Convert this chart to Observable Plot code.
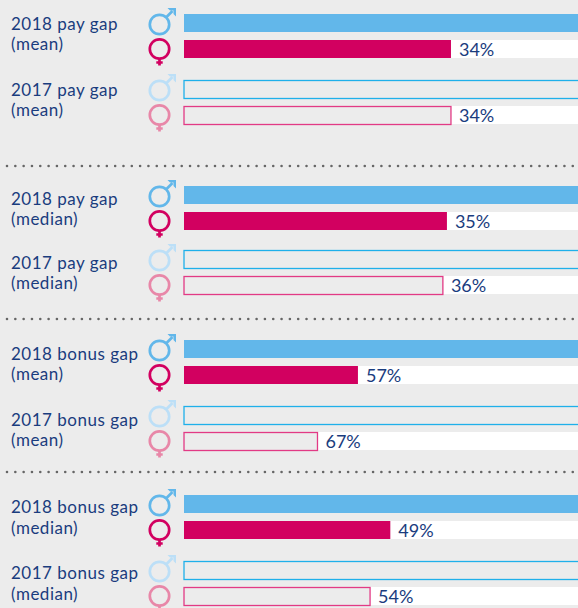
<!DOCTYPE html>
<html><head><meta charset="utf-8">
<style>html,body{margin:0;padding:0;background:#ececec;overflow:hidden}svg{display:block}.lbl{letter-spacing:.5px}</style>
<script src="https://cdn.jsdelivr.net/npm/d3@7"></script>
<script src="https://cdn.jsdelivr.net/npm/@observablehq/plot@0.6"></script>
</head><body><script>
// Data
const measures = ["pay gap\n(mean)", "pay gap\n(median)", "bonus gap\n(mean)", "bonus gap\n(median)"];
const years = ["2018", "2017"];
const gap2018 = [34, 35, 57, 49];
const gap2017 = [34, 36, 67, 54];
const maleIndex = 100;

// Layout (y scale units, kept apart from the data)
const sectionTop = [14, 186, 340, 495];
const yearOffset = [[0, 66], [0, 64], [0, 66], [0, 66]];
const labelOffset = [19.1, 22.1, 23.1, 21.5];
const femaleOffset = 26, barH = 18;
const separators = [165.5, 318.5, 471.5];

const rows = measures.flatMap((m, s) => years.map((yr, k) => {
  const top = sectionTop[s] + yearOffset[s][k];
  const gap = (k === 0 ? gap2018 : gap2017)[s];
  return {label: `${yr} ${m}`, gap, female: maleIndex - gap, solid: k === 0,
    maleTop: top, femaleTop: top + femaleOffset, labelY: top + labelOffset[s]};
}));

const color = {male:"#62b7ea", female:"#d20060", maleLine:"#1fb0ea", femaleLine:"#e23a85",
  malePale:"#bcdff7", femalePale:"#e887a8", text:"#1a3c7e"};

// Custom symbols
const ring = {draw(c){ const r = 9.7; c.moveTo(r,0); c.arc(0,0,r,0,2*Math.PI); }};
const maleStem = {draw(c){ c.moveTo(6.5,-7); c.lineTo(13,-13.5); }};
const maleHead = {draw(c){ c.moveTo(8,-16.5); c.lineTo(16.5,-16.5); c.lineTo(16.5,-8); c.lineTo(14,-10.5); c.lineTo(14,-14); c.lineTo(10.5,-14); c.closePath(); }};
const femaleStem = {draw(c){ c.moveTo(0,9.5); c.lineTo(0,16.5); c.moveTo(-3.2,13.5); c.lineTo(3.2,13.5); }};

const icon = (data, yFn, sym, col, filled) => Plot.dot(data, {
  y: yFn, frameAnchor:"left", dx:159, r:5, symbol:sym,
  ...(filled ? {fill:col, stroke:"none"} : {fill:"none", stroke:col, strokeWidth:2.7})
});
const iconsFor = (data, mc, fc) => [
  icon(data, d=>d.maleTop+10, ring, mc),
  icon(data, d=>d.maleTop+10, maleStem, mc),
  icon(data, d=>d.maleTop+10, maleHead, mc, true),
  icon(data, d=>d.femaleTop+8.5, ring, fc),
  icon(data, d=>d.femaleTop+8.5, femaleStem, fc)
];

const solid = rows.filter(d => d.solid), open = rows.filter(d => !d.solid);

const chart = Plot.plot({
  width:578, height:608, margin:0,
  style:{background:"#ececec", fontFamily:"Lato, sans-serif"},
  x:{domain:[0,100], range:[184,588.5], axis:null},
  y:{domain:[0,608], range:[0,608], axis:null},
  marks:[
    Plot.ruleY(separators,{y:d=>d,stroke:"#666",strokeWidth:2.6,strokeLinecap:"round",strokeDasharray:"0 8.32",dx:7}),
    Plot.rect(rows,{x1:"female",x2:maleIndex,y1:"femaleTop",y2:d=>d.femaleTop+barH,fill:"white",clip:"frame"}),
    Plot.rect(solid,{x1:0,x2:maleIndex,y1:"maleTop",y2:d=>d.maleTop+barH,fill:color.male,clip:"frame"}),
    Plot.rect(solid,{x1:0,x2:"female",y1:"femaleTop",y2:d=>d.femaleTop+barH,fill:color.female,clip:"frame"}),
    Plot.rect(open,{x1:0,x2:maleIndex,y1:d=>d.maleTop+0.5,y2:d=>d.maleTop+barH+0.5,fill:"#ececec",stroke:color.maleLine,strokeWidth:1.3,clip:"frame"}),
    Plot.rect(open,{x1:0,x2:"female",y1:d=>d.femaleTop+0.5,y2:d=>d.femaleTop+barH+0.5,fill:"#ececec",stroke:color.femaleLine,strokeWidth:1.3,clip:"frame"}),
    ...iconsFor(solid, color.male, color.female),
    ...iconsFor(open, color.malePale, color.femalePale),
    Plot.text(rows,{x:"female",y:d=>d.femaleTop+9.7,text:d=>`${d.gap}%`,dx:7.5,textAnchor:"start",fill:color.text,fontSize:18}),
    Plot.text(rows,{y:"labelY",text:"label",frameAnchor:"left",dx:10.5,textAnchor:"start",fill:color.text,fontSize:17,lineHeight:1.2,className:"lbl"})
  ]
});
document.body.appendChild(chart);
</script></body></html>
